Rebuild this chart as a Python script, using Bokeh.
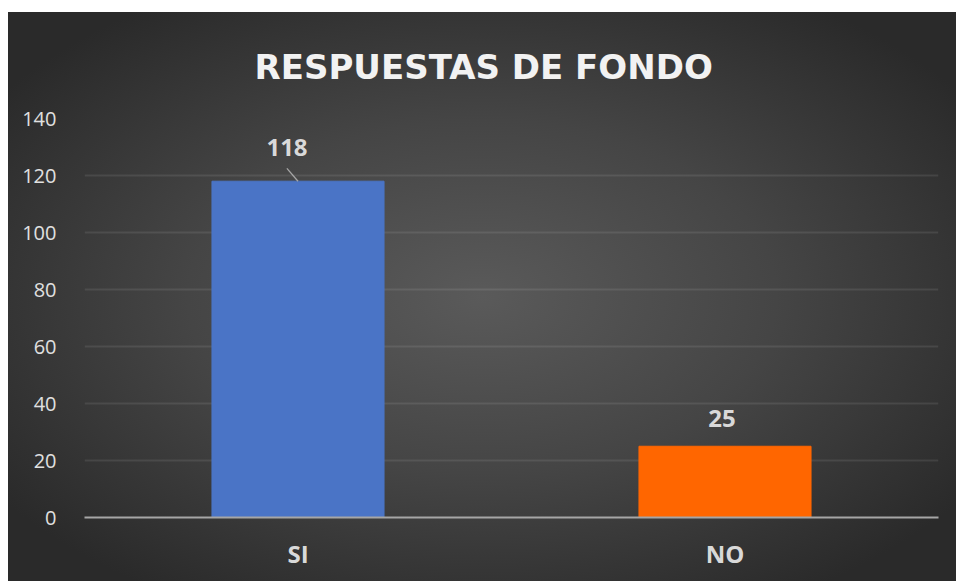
from bokeh.plotting import figure
from bokeh.models import ColumnDataSource, Spacer, FixedTicker
from bokeh.layouts import column, row
from bokeh.transform import dodge
from bokeh.core.properties import value
from bokeh.embed import file_html
from bokeh.resources import INLINE

# ---- data ----
categories = ["SI", "NO"]
values = [118, 25]
bar_colors = ["#4a74c6", "#ff6600"]
y_ticks = [0, 20, 40, 60, 80, 100, 120, 140]
title_text = "RESPUESTAS DE FONDO"

src = ColumnDataSource(dict(cat=categories, val=values, color=bar_colors,
                            label=[str(v) for v in values],
                            dx=[-11, -3], dy=[-34, -28]))

W, H = 948, 569
p = figure(x_range=categories, y_range=(0, 140), width=W, height=H,
           output_backend="svg", toolbar_location=None,
           min_border_left=76, min_border_right=18, min_border_top=106,
           min_border_bottom=64)
p.styles = {"background": "radial-gradient(ellipse 62% 62% at 50% 50%, #5a5a5a 0%, #454545 50%, #2a2a2a 100%)"}
p.border_fill_color = None
p.background_fill_color = None
p.outline_line_color = None

p.title.text = title_text
p.title.align = "left"
p.title.offset = 170
p.title.standoff = 63
p.title.text_font = "DejaVu Sans"
p.title.text_font_style = "bold"
p.title.text_font_size = "34px"
p.title.text_color = "#f2f2f2"

p.vbar(x="cat", top="val", width=0.403, color="color", source=src)

# data labels
p.text(x="cat", y="val", text="label", source=src,
       x_offset="dx", y_offset="dy", text_align="center", text_baseline="middle",
       text_font=value("Open Sans"), text_font_style="bold",
       text_font_size="24px", text_color="#d9d9d9")

# leader line for the SI label
lead = ColumnDataSource(dict(cat=[categories[0]], y0=[values[0]], y1=[values[0] + 4.5]))
p.segment(x0=dodge("cat", -0.026, range=p.x_range), y0="y1",
          x1=dodge("cat", 0.0, range=p.x_range), y1="y0", source=lead,
          line_color="#a6a6a6", line_width=1.3)

# axes
p.yaxis.ticker = FixedTicker(ticks=y_ticks)
p.yaxis.axis_line_color = None
p.yaxis.major_tick_line_color = None
p.yaxis.minor_tick_line_color = None
p.yaxis.major_label_standoff = 22
p.yaxis.major_label_text_font = "Open Sans"
p.yaxis.major_label_text_font_size = "20px"
p.yaxis.major_label_text_color = "#e0e0e0"

p.xaxis.axis_line_color = "#a6a6a6"
p.xaxis.axis_line_width = 2
p.xaxis.major_tick_line_color = None
p.xaxis.minor_tick_line_color = None
p.xaxis.major_label_standoff = 13
p.xaxis.major_label_text_font = "Open Sans"
p.xaxis.major_label_text_font_style = "bold"
p.xaxis.major_label_text_font_size = "24px"
p.xaxis.major_label_text_color = "#d9d9d9"

p.xgrid.grid_line_color = None
p.ygrid.grid_line_color = "#ffffff"
p.ygrid.grid_line_alpha = 0.09
p.ygrid.grid_line_width = 2

layout = column(Spacer(height=12), row(Spacer(width=8), p))
open("out.html", "w").write(file_html(layout, INLINE))
